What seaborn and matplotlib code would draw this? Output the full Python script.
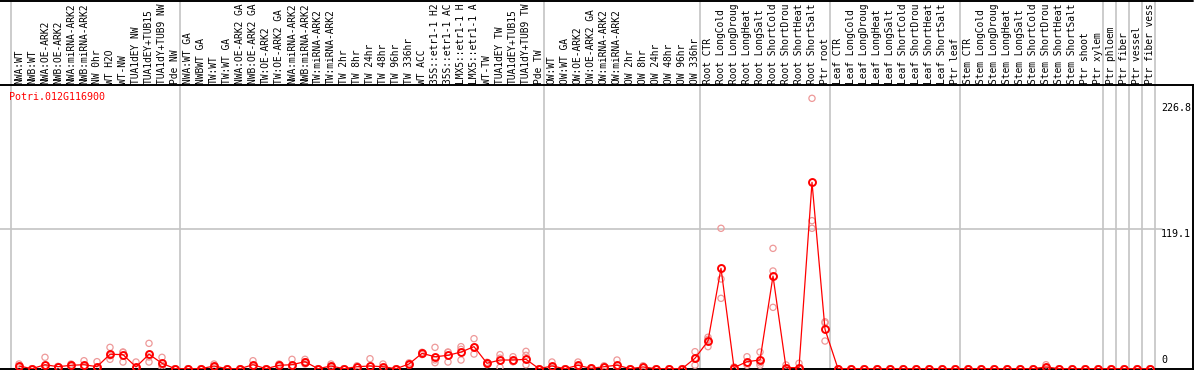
import numpy as np
import pandas as pd
import matplotlib
matplotlib.use("Agg")
import matplotlib.pyplot as plt
import matplotlib.transforms as mtransforms
from matplotlib.lines import Line2D
import seaborn as sns

gene = "Potri.012G116900"

samples = [
    "NWA:WT", "NWB:WT", "NWA:OE-ARK2", "NWB:OE-ARK2", "NWA:miRNA-ARK2", "NWB:miRNA-ARK2",
    "NW 0hr", "WT H2O", "WT-NW", "TUA1dEY NW", "TUA1dEY+TUB15", "TUA1dY+TUB9 NW", "Pde NW",
    "NWA:WT GA", "NWBWT GA", "TW:WT", "TW:WT GA", "NWA:OE-ARK2 GA", "NWB:OE-ARK2 GA",
    "TW:OE-ARK2", "TW:OE-ARK2 GA", "NWA:miRNA-ARK2", "NWB:miRNA-ARK2", "TW:miRNA-ARK2",
    "TW:miRNA-ARK2", "TW 2hr", "TW 8hr", "TW 24hr", "TW 48hr", "TW 96hr", "TW 336hr",
    "WT ACC", "35S::etr1-1 H2", "35S::etr1-1 AC", "LMX5::etr1-1 H", "LMX5::etr1-1 A",
    "WT-TW", "TUA1dEY TW", "TUA1dEY+TUB15", "TUA1dY+TUB9 TW", "Pde TW",
    "OW:WT", "OW:WT GA", "OW:OE-ARK2", "OW:OE-ARK2 GA", "OW:miRNA-ARK2", "OW:miRNA-ARK2",
    "OW 2hr", "OW 8hr", "OW 24hr", "OW 48hr", "OW 96hr", "OW 336hr",
    "Root CTR", "Root LongCold", "Root LongDroug", "Root LongHeat", "Root LongSalt",
    "Root ShortCold", "Root ShortDrou", "Root ShortHeat", "Root ShortSalt", "Ptr root",
    "Leaf CTR", "Leaf LongCold", "Leaf LongDroug", "Leaf LongHeat", "Leaf LongSalt",
    "Leaf ShortCold", "Leaf ShortDrou", "Leaf ShortHeat", "Leaf ShortSalt", "Ptr leaf",
    "Stem CTR", "Stem LongCold", "Stem LongDroug", "Stem LongHeat", "Stem LongSalt",
    "Stem ShortCold", "Stem ShortDrou", "Stem ShortHeat", "Stem ShortSalt", "Ptr shoot",
    "Ptr xylem", "Ptr phloem", "Ptr fiber", "Ptr vessel", "Ptr fiber vess",
]
group_sizes = [13, 28, 12, 10, 10, 11, 1, 1, 1, 1]

means = [
    2.3, 0, 3.4, 1.7, 2.9, 3.4, 1.7, 12.3, 12.0, 1.5, 12.3, 4.6, 0,
    0, 0, 2.3, 0, 0, 3.4, 0, 2.9, 3.4, 6.0, 0, 2.3, 0, 1.7, 2.3, 1.7, 0, 4.0,
    13.1, 10.2, 11.4, 14.2, 18.8, 4.6, 7.4, 7.4, 8.0, 0,
    2.3, 0, 2.9, 0.3, 1.7, 3.0, 0, 1.5, 0, 0, 0, 8.9,
    23.6, 85.6, 0.9, 6.0, 7.4, 79.0, 0.9, 0.9, 158.9, 33.6,
    0, 0, 0, 0, 0, 0, 0, 0, 0, 0,
    0, 0, 0, 0, 0, 0, 1.5, 0, 0, 0, 0,
    0, 0, 0, 0,
]
rep_high = [
    4.0, 0, 9.7, 1.7, 4.0, 6.8, 6.0, 18.2, 14.2, 5.7, 21.6, 9.7, 0,
    0, 0, 4.0, 0, 0, 6.8, 0, 4.0, 8.0, 8.0, 0, 4.0, 0, 2.5, 8.5, 4.0, 0, 5.0,
    14.0, 18.2, 14.2, 18.8, 25.6, 5.5, 12.0, 10.2, 14.8, 0,
    5.7, 0, 5.7, 0.8, 2.5, 7.4, 0, 2.5, 0, 0, 0, 14.5,
    26.8, 119.7, 1.5, 10.2, 14.2, 102.6, 3.2, 4.6, 230.5, 40.0,
    0, 0, 0, 0, 0, 0, 0, 0, 0, 0,
    0, 0, 0, 0, 0, 0, 3.4, 0, 0, 0, 0,
    0, 0, 0, 0,
]
rep_low = [
    1.2, 0, 0, 1.5, 2.0, 1.5, 0, 8.0, 5.7, 0, 5.7, 1.2, 0,
    0, 0, 1.5, 0, 0, 1.5, 0, 2.0, 1.0, 4.0, 0, 1.0, 0, 1.0, 0, 0.5, 0, 3.0,
    12.0, 5.1, 5.7, 7.4, 12.5, 3.5, 1.2, 6.0, 3.4, 0,
    0.5, 0, 1.0, 0, 1.0, 0.5, 0, 1.0, 0, 0, 0, 3.0,
    18.8, 60.0, 0.5, 4.8, 3.0, 52.3, 0, 0, 119.7, 23.6,
    0, 0, 0, 0, 0, 0, 0, 0, 0, 0,
    0, 0, 0, 0, 0, 0, 0.5, 0, 0, 0, 0,
    0, 0, 0, 0,
]
rep_mid = [
    1.7, 0, 0.5, 2.0, 2.5, 2.0, 0, 11.0, 14.0, 0, 10.0, 3.0, 0,
    0, 0, 1.5, 0, 0, 2.0, 0, 2.5, 1.5, 6.0, 0, 2.0, 0, 1.5, 0, 0.5, 0, 4.0,
    13.0, 7.5, 14.0, 16.5, 18.5, 4.6, 9.0, 6.0, 11.4, 0,
    0.5, 0, 2.0, 0, 1.5, 1.0, 0, 1.0, 0, 0, 0, 9.0,
    25.0, 76.5, 0.8, 3.0, 5.0, 83.3, 0, 0, 126.2, 39.0,
    0, 0, 0, 0, 0, 0, 0, 0, 0, 0,
    0, 0, 0, 0, 0, 0, 1.0, 0, 0, 0, 0,
    0, 0, 0, 0,
]
ytick_values = [226.8, 119.1, 0]
ytick_labels = ["226.8", "119.1", "0"]

# ---------------------------------------------------------------- layout
W, H = 1194, 370
DPI = 100
x0_px, step_px = 19.0, 13.0          # centre of first column and column pitch
ax_top_px, ax_bot_px, ax_right_px = 85.0, 368.7, 1193.0
px_per_unit = 1.173

sns.set_theme(style="white")
plt.rcParams['font.family'] = ['DejaVu Sans Mono', 'DejaVu Sans']

fig = plt.figure(figsize=(W / DPI, H / DPI), dpi=DPI)
fig.patch.set_facecolor("white")
ax = fig.add_axes([0, (H - ax_bot_px) / H, ax_right_px / W, (ax_bot_px - ax_top_px) / H])
ax.set_facecolor("white")

idx = np.arange(len(samples))

# replicates
df_rep = pd.DataFrame({
    "x": np.concatenate([idx, idx, idx]),
    "value": np.concatenate([rep_high, rep_low, rep_mid]),
})
sns.scatterplot(data=df_rep, x="x", y="value", ax=ax, s=20, marker="o",
                linewidth=0.9, zorder=3, legend=False)
coll = ax.collections[-1]
coll.set_facecolor("none")
coll.set_edgecolor("#ee9999")

# means
df_mean = pd.DataFrame({"x": idx, "value": means})
sns.lineplot(data=df_mean, x="x", y="value", ax=ax, color="red", linewidth=0.9,
             marker="o", markersize=5, markerfacecolor="none", markeredgecolor="red",
             markeredgewidth=1.4, estimator=None, zorder=4, legend=False)

ax.set_xlim(-x0_px / step_px, (ax_right_px - x0_px) / step_px)
ax.set_ylim(0, (ax_bot_px - ax_top_px) / px_per_unit)
ax.set_xticks([])
ax.set_yticks([])
ax.set_xlabel("")
ax.set_ylabel("")
for side in ["top", "bottom", "right"]:
    ax.spines[side].set_visible(True)
    ax.spines[side].set_color("black")
    ax.spines[side].set_linewidth(1.4)
ax.spines["left"].set_visible(False)

# separators between sample groups (span the header too)
ax_h_px = ax_bot_px - ax_top_px
ymax_fig = ax_bot_px / ax_h_px
bounds = np.concatenate([[0], np.cumsum(group_sizes)])
for b in bounds:
    ax.axvline(b - 0.6, ymin=0, ymax=ymax_fig, color="#c4c4c4", lw=1.2,
               clip_on=False, zorder=1)

# horizontal gridline
label_x = (1161 - x0_px) / step_px
ax.axhline(119.1, xmin=0, xmax=1162 / ax_right_px, color="#c4c4c4", lw=1.2, zorder=1)

# header labels
trans = mtransforms.blended_transform_factory(ax.transData, ax.transAxes)
for i, name in enumerate(samples):
    ax.text(i, 1 + 1.5 / ax_h_px, name, transform=trans, rotation=90,
            ha="center", va="bottom", fontsize=6.9, color="black", clip_on=False)

# value labels on the right
for v, lab in zip(ytick_values, ytick_labels):
    if v == 0:
        ax.annotate(lab, (label_x, 0), xytext=(0, 2.5), textcoords="offset points",
                    ha="left", va="bottom", fontsize=7.2, color="black")
    else:
        ax.text(label_x, v, lab, ha="left", va="top", fontsize=7.2, color="black")

# gene title
fig.text(9 / W, 1 - 97 / H, gene, color="red", fontsize=7.2, ha="left", va="center")

# top border of the figure
fig.add_artist(Line2D([0, ax_right_px / W], [1 - 0.6 / H] * 2, transform=fig.transFigure,
                      color="black", lw=1.4))

fig.savefig("out.png", dpi=DPI, facecolor="white")
